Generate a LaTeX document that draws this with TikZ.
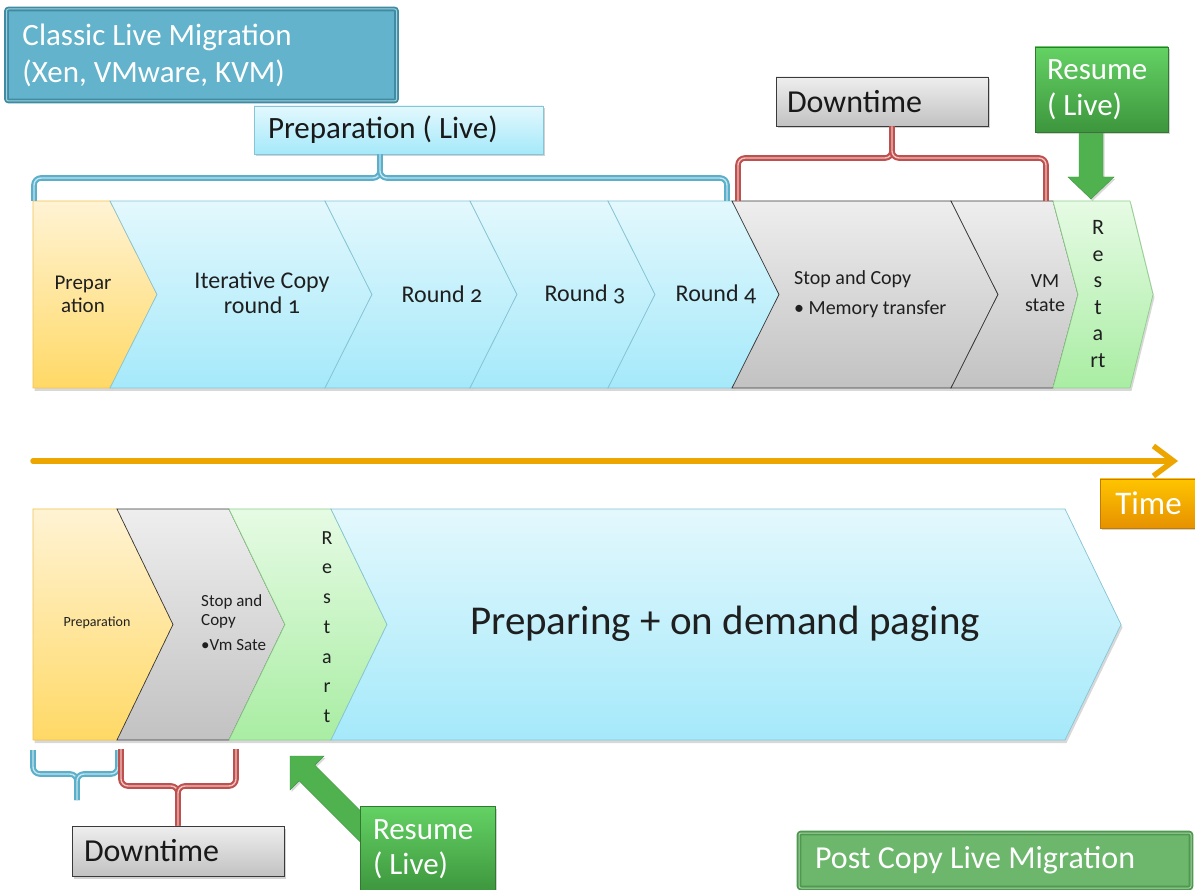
\documentclass[tikz,border=0pt]{standalone}
\usepackage{fontspec}
\setmainfont{Carlito}[Numbers=OldStyle]
\usetikzlibrary{shadows,arrows.meta,calc}
\definecolor{clfill}{HTML}{62B3CB}
\definecolor{clborder}{HTML}{3F8CA2}
\definecolor{orgtop}{HTML}{FFF3D4}
\definecolor{orgbot}{HTML}{FFD966}
\definecolor{orgline}{HTML}{F2C14E}
\definecolor{blutop}{HTML}{E3F8FD}
\definecolor{blubot}{HTML}{A5E9FA}
\definecolor{bluline}{HTML}{86C5D6}
\definecolor{grytop}{HTML}{EEEEEE}
\definecolor{grybot}{HTML}{C2C2C2}
\definecolor{gryline}{HTML}{3A3A3A}
\definecolor{grntop}{HTML}{E6FBE4}
\definecolor{grnbot}{HTML}{A9EDA3}
\definecolor{grnline}{HTML}{8FCF8A}
\definecolor{resTop}{HTML}{64D264}
\definecolor{resBot}{HTML}{3D963D}
\definecolor{resArrow}{HTML}{4FB24F}
\definecolor{pcfill}{HTML}{6CB76C}
\definecolor{pcborder}{HTML}{4F984F}
\definecolor{timeTop}{HTML}{FFC400}
\definecolor{timeBot}{HTML}{E69200}
\definecolor{axiscol}{HTML}{EDA500}
\definecolor{braceblue}{HTML}{5AAFCB}
\definecolor{bracered}{HTML}{C0504D}
\newcommand{\chevshape}[7]{\path[#1] (#2,#6) -- (#3,#6) -- ({#3+#5},{(#6+#7)/2}) -- (#3,#7) -- (#2,#7) -- ({#2+#4},{(#6+#7)/2}) -- cycle;}
\newcommand{\fsz}[2]{\fontsize{#1}{#2}\selectfont}
\begin{document}
\begin{tikzpicture}[x=1pt,y=-1pt,
  chevshadow/.style={drop shadow={opacity=0.3, shadow xshift=1.5pt, shadow yshift=-3pt}},
  orgchev/.style={chevshadow, top color=orgtop, bottom color=orgbot, draw=orgline, line width=0.7pt},
  bluchev/.style={chevshadow, top color=blutop, bottom color=blubot, draw=bluline, line width=0.7pt},
  grychev/.style={chevshadow, top color=grytop, bottom color=grybot, draw=gryline, line width=0.7pt},
  grnchev/.style={chevshadow, top color=grntop, bottom color=grnbot, draw=grnline, line width=0.7pt},
  chevtext/.style={align=center, inner sep=0pt, text=black!88},
  boxshadow/.style={drop shadow={opacity=0.35, shadow xshift=2pt, shadow yshift=-2.5pt}},
  tealbox/.style={fill=clfill, draw=clborder, double=clfill!60!white, double distance=1pt, line width=1.8pt, rounded corners=2pt, text=white, align=flush left, inner ysep=0pt},
  pcbox/.style={fill=pcfill, draw=pcborder, double=pcfill!60!white, double distance=1pt, line width=1.8pt, rounded corners=2pt, text=white, align=flush left, inner ysep=0pt},
  prepbox/.style={boxshadow, top color=blutop, bottom color=blubot, draw=bluline, line width=0.8pt, align=flush left, inner ysep=0pt, text=black!90},
  downbox/.style={boxshadow, top color=grytop, bottom color=grybot, draw=gryline, line width=0.7pt, align=flush left, inner ysep=0pt, text=black!90},
  resbox/.style={boxshadow, top color=resTop, bottom color=resBot, draw=resBot!80!black, line width=0.4pt, align=flush left, inner ysep=0pt, text=white},
  timebox/.style={boxshadow, top color=timeTop, bottom color=timeBot, draw=timeBot!85!black, line width=0.4pt, text=white, inner sep=0pt},
  resarrow/.style={fill=resArrow, draw=resBot, line width=0.4pt, drop shadow={opacity=0.3, shadow xshift=1.5pt, shadow yshift=-2pt}},
  bluebrace/.style={draw=braceblue, double=braceblue!35!white, double distance=1.4pt, line width=2.1pt, rounded corners=7pt},
  redbrace/.style={draw=bracered, double=bracered!35!white, double distance=1.4pt, line width=2.1pt, rounded corners=7pt},
  axisline/.style={draw=axiscol, line width=5.5pt, line cap=round, -{Straight Barb[length=20pt,width=30pt]}}
]
\useasboundingbox (0,0) rectangle (1195,890);
\fill[white] (0,0) rectangle (1195,890);

% ---------- top row of chevrons ----------
\chevshape{orgchev}{33}{110}{0}{47}{201}{388}
\chevshape{bluchev}{110}{325}{47}{47}{201}{388}
\chevshape{bluchev}{325}{470}{47}{47}{201}{388}
\chevshape{bluchev}{470}{608}{47}{47}{201}{388}
\chevshape{bluchev}{608}{732}{47}{47}{201}{388}
\chevshape{grychev}{732}{951}{47}{47}{201}{388}
\chevshape{grychev}{951}{1053}{47}{25}{201}{388}
\chevshape{grnchev}{1053}{1130}{25}{23}{201}{388}

\node[chevtext, font=\fsz{21}{23}] (tPrep) at (83,294) {Prepar\\ation};
\node[chevtext, font=\fsz{24}{25}] (tIter) at (262,293) {Iterative Copy\\round 1};
\node[chevtext, font=\fsz{24}{25}] (tR2) at (442,294) {Round 2};
\node[chevtext, font=\fsz{24}{25}] (tR3) at (585,294) {Round 3};
\node[chevtext, font=\fsz{24}{25}] (tR4) at (716,294) {Round 4};
\node[chevtext, align=left, anchor=west, font=\fsz{20}{22}] (tStop) at (794,294) {Stop and Copy\\[8pt]\textbullet\ Memory transfer};
\node[chevtext, font=\fsz{20}{24}] (tVM) at (1045,293) {VM\\state};
\node[chevtext, font=\fsz{22}{26.5}] (tRestart) at (1098,294) {R\\e\\s\\t\\a\\rt};

% ---------- top braces and boxes ----------
\node[tealbox, minimum width=390pt, minimum height=92pt, text width=358pt, inner xsep=16pt, font=\fsz{31}{37}] (classic) at (201.5,55) {Classic Live Migration\\(Xen, VMware, KVM)};
\node[prepbox, minimum width=289pt, minimum height=48pt, text width=261pt, inner xsep=14pt, font=\fsz{31}{34}] (prepLive) at (398.5,130) {Preparation ( Live)};
\node[downbox, minimum width=212pt, minimum height=49pt, text width=190pt, inner xsep=11pt, font=\fsz{32}{34}] (downTop) at (882,101.5) {Downtime};

\coordinate (bbL) at (34,201);
\coordinate (bbR) at (727,201);
\coordinate (bbM) at (380,178);
\draw[bluebrace] (bbL) |- (bbM) -- ([xshift=-18.5pt]prepLive.south);
\draw[bluebrace] (bbR) |- (bbM) -- ([xshift=-18.5pt]prepLive.south);

\coordinate (rbL) at (738,201);
\coordinate (rbR) at (1046,201);
\coordinate (rbM) at (892,158);
\draw[redbrace] (rbL) |- (rbM) -- ([xshift=10pt]downTop.south);
\draw[redbrace] (rbR) |- (rbM) -- ([xshift=10pt]downTop.south);

% resume arrow (top)
\coordinate (raTip) at (1091,199);
\path[resarrow] (1079,130) -- (1103,130) -- (1103,177) -- (1114,177) -- (raTip) -- (1068,177) -- (1079,177) -- cycle;
\node[resbox, minimum width=133pt, minimum height=85pt, text width=109pt, inner xsep=12pt, font=\fsz{31}{36}] (resTop) at (1101.5,89.5) {Resume\\( Live)};

% ---------- time axis ----------
\coordinate (axStart) at (33,461);
\coordinate (axEnd) at (1178,461);
\draw[axisline] (axStart) -- (axEnd);
\node[timebox, minimum width=97pt, minimum height=49pt, font=\fsz{33}{36}] (timeBox) at (1148.5,503.5) {Time};

% ---------- bottom row of chevrons ----------
\chevshape{orgchev}{33}{117}{0}{56}{509}{740}
\chevshape{grychev}{117}{229}{56}{56}{509}{740}
\chevshape{grnchev}{229}{331}{56}{56}{509}{740}
\chevshape{bluchev}{331}{1065}{56}{56}{509}{740}

\node[chevtext, font=\fsz{14}{16}] (bPrep) at (97,623) {Preparation};
\node[chevtext, align=left, anchor=west, font=\fsz{17}{19}] (bStop) at (201,623) {Stop and\\Copy\\[6pt]\textbullet Vm Sate};
\node[chevtext, font=\fsz{20}{29.7}] (bRestart) at (327,627) {R\\e\\s\\t\\a\\r\\t};
\node[chevtext, font=\fsz{41}{44}] (bBig) at (725,624) {Preparing + on demand paging};

% ---------- bottom braces and boxes ----------
\node[downbox, minimum width=212pt, minimum height=50pt, text width=188pt, inner xsep=12pt, font=\fsz{32}{34}] (downBot) at (178,851) {Downtime};

\coordinate (lbL) at (33,750);
\coordinate (lbR) at (118,750);
\coordinate (lbM) at (77,774);
\coordinate (lbTip) at (77,800);
\draw[bluebrace] (lbL) |- (lbM) -- (lbTip);
\draw[bluebrace] (lbR) |- (lbM) -- (lbTip);

\coordinate (lrL) at (121,749);
\coordinate (lrR) at (236,749);
\coordinate (lrM) at (178,786);
\draw[redbrace] (lrL) |- (lrM) -- (downBot.north);
\draw[redbrace] (lrR) |- (lrM) -- (downBot.north);

% resume arrow (bottom, diagonal)
\coordinate (rbTip) at (290,756);
\path[resarrow] (rbTip) -- (324,756) -- (314.8,765.2) -- (384.8,835.2) -- (369.2,850.8) -- (299.2,780.8) -- (290,790) -- cycle;
\node[resbox, minimum width=135pt, minimum height=86pt, text width=109pt, inner xsep=13pt, font=\fsz{31}{35}] (resBotBox) at (427.5,849) {Resume\\( Live)};

\node[pcbox, minimum width=392pt, minimum height=55pt, text width=360pt, inner xsep=16pt, font=\fsz{32}{34}] (postCopy) at (995,860.5) {Post Copy Live Migration};
\end{tikzpicture}
\end{document}
